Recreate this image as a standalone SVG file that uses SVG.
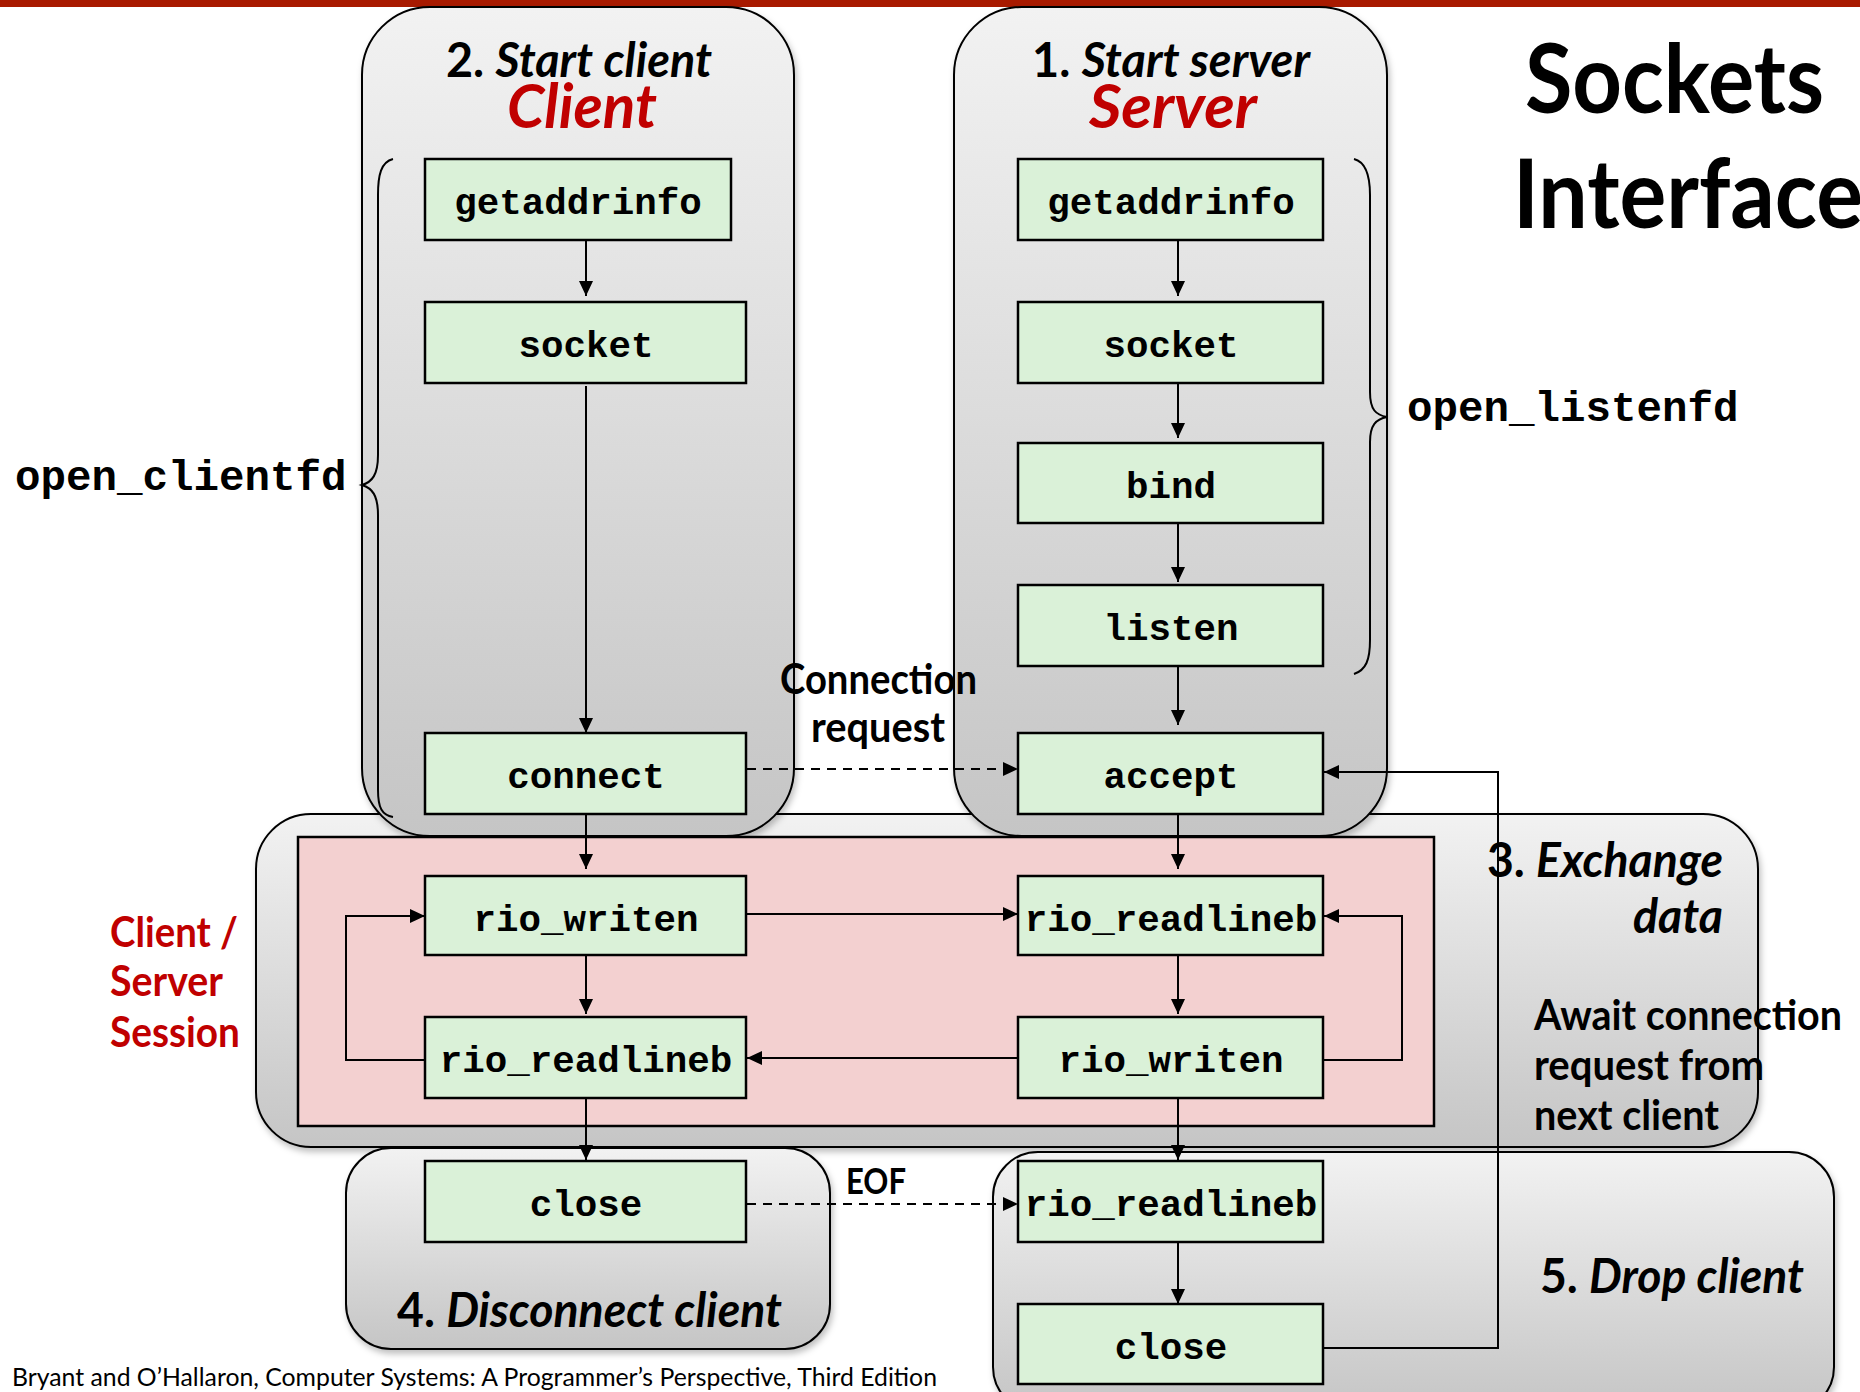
<svg xmlns="http://www.w3.org/2000/svg" width="1860" height="1392" viewBox="0 0 1860 1392">
<defs>
<linearGradient id="gray" x1="0" y1="0" x2="0" y2="1">
<stop offset="0" stop-color="#F2F2F2"/>
<stop offset="1" stop-color="#C5C5C5"/>
</linearGradient>
<filter id="shadow" x="-5%" y="-5%" width="110%" height="110%">
<feDropShadow dx="2" dy="4" stdDeviation="3" flood-color="#000" flood-opacity="0.25"/>
</filter>
<marker id="arr" markerUnits="userSpaceOnUse" markerWidth="16" markerHeight="14" refX="15" refY="7" orient="auto">
<path d="M0,0 L15,7 L0,14 Z" fill="#000"/>
</marker>
</defs>
<style>
.panel{fill:url(#gray);stroke:#000;stroke-width:2;filter:url(#shadow)}
.node rect{fill:#DAF1D8;stroke:#000;stroke-width:2.5}
.node text{font-family:"Liberation Mono","Courier New",monospace;font-weight:bold;font-size:37.5px;text-anchor:middle;fill:#000}
.code{font-family:"Liberation Mono","Courier New",monospace;font-weight:bold;font-size:42.5px;fill:#000}
.lbl{font-family:Lato,"Open Sans","Liberation Sans",sans-serif;font-weight:bold;fill:#000}
.red{fill:#C00000}
.it{font-style:italic}
.ln{fill:none;stroke:#000;stroke-width:2}
.dash{stroke-dasharray:9,7}
.brace{fill:none;stroke:#000;stroke-width:2}
</style>
<rect x="0" y="0" width="1860" height="7" fill="#A81A00"/>

<g id="session-panel">
<rect class="panel" x="256" y="814" width="1502" height="333" rx="55" ry="55"/>
</g>
<g id="disconnect-panel">
<rect class="panel" x="346" y="1148" width="484" height="201" rx="45" ry="45"/>
<text class="lbl" x="397" y="1327" font-size="48" textLength="385" lengthAdjust="spacingAndGlyphs">4. <tspan class="it">Disconnect client</tspan></text>
</g>
<g id="drop-panel">
<rect class="panel" x="993" y="1152" width="841" height="260" rx="45" ry="45"/>
<text class="lbl" x="1540" y="1293" font-size="48" textLength="264" lengthAdjust="spacingAndGlyphs">5. <tspan class="it">Drop client</tspan></text>
</g>
<g id="client-panel">
<rect class="panel" x="362" y="7" width="432" height="829" rx="68" ry="68"/>
<text class="lbl" x="579" y="77" font-size="48" text-anchor="middle" textLength="266" lengthAdjust="spacingAndGlyphs">2. <tspan class="it">Start client</tspan></text>
<text class="lbl red it" x="582" y="128" font-size="62" text-anchor="middle" textLength="150" lengthAdjust="spacingAndGlyphs">Client</text>
</g>
<g id="server-panel">
<rect class="panel" x="954" y="7" width="433" height="829" rx="68" ry="68"/>
<text class="lbl" x="1171" y="77" font-size="48" text-anchor="middle" textLength="278" lengthAdjust="spacingAndGlyphs">1. <tspan class="it">Start server</tspan></text>
<text class="lbl red it" x="1173" y="128" font-size="62" text-anchor="middle" textLength="168" lengthAdjust="spacingAndGlyphs">Server</text>
</g>
<g id="session-area">
<rect x="298" y="837" width="1136" height="289" fill="#F3D0D0" stroke="#000" stroke-width="2.5"/>
</g>

<g id="braces">
<path class="brace" d="M393,159 C381,162 378,175 378,195 V455 C378,475 372,482 362,485 C372,488 378,495 378,515 V790 C378,808 382,815 393,817"/>
<path class="brace" d="M1354,159 C1366,162 1370,175 1370,195 V392 C1370,410 1376,415 1387,417 C1376,419 1370,425 1370,442 V640 C1370,660 1366,670 1354,674"/>
</g>

<g id="connectors">
<path class="ln" d="M586,240 V296" marker-end="url(#arr)"/>
<path class="ln" d="M586,386 V733" marker-end="url(#arr)"/>
<path class="ln" d="M586,814 V869" marker-end="url(#arr)"/>
<path class="ln" d="M586,955 V1014" marker-end="url(#arr)"/>
<path class="ln" d="M586,1098 V1160" marker-end="url(#arr)"/>
<path class="ln" d="M1178,240 V296" marker-end="url(#arr)"/>
<path class="ln" d="M1178,383 V438" marker-end="url(#arr)"/>
<path class="ln" d="M1178,523 V582" marker-end="url(#arr)"/>
<path class="ln" d="M1178,666 V725" marker-end="url(#arr)"/>
<path class="ln" d="M1178,814 V869" marker-end="url(#arr)"/>
<path class="ln" d="M1178,955 V1014" marker-end="url(#arr)"/>
<path class="ln" d="M1178,1098 V1160" marker-end="url(#arr)"/>
<path class="ln" d="M1178,1242 V1304" marker-end="url(#arr)"/>
<path class="ln dash" d="M747,769 H1018" marker-end="url(#arr)"/>
<path class="ln" d="M747,914 H1018" marker-end="url(#arr)"/>
<path class="ln" d="M1018,1058 H747" marker-end="url(#arr)"/>
<path class="ln" d="M425,1060 H346 V916 H425" marker-end="url(#arr)"/>
<path class="ln" d="M1323,1060 H1402 V916 H1324" marker-end="url(#arr)"/>
<path class="ln" d="M1323,1348 H1498 V772 H1324" marker-end="url(#arr)"/>
<path class="ln dash" d="M747,1204 H1018" marker-end="url(#arr)"/>
</g>

<g id="c-getaddrinfo" class="node"><rect x="425" y="159" width="306" height="81"/><text x="578" y="214">getaddrinfo</text></g>
<g id="c-socket" class="node"><rect x="425" y="302" width="321" height="81"/><text x="586" y="357">socket</text></g>
<g id="c-connect" class="node"><rect x="425" y="733" width="321" height="81"/><text x="586" y="788">connect</text></g>
<g id="c-rio-writen" class="node"><rect x="425" y="876" width="321" height="79"/><text x="586" y="931">rio_writen</text></g>
<g id="c-rio-readlineb" class="node"><rect x="425" y="1017" width="321" height="81"/><text x="586" y="1072">rio_readlineb</text></g>
<g id="c-close" class="node"><rect x="425" y="1161" width="321" height="81"/><text x="586" y="1216">close</text></g>

<g id="s-getaddrinfo" class="node"><rect x="1018" y="159" width="305" height="81"/><text x="1171" y="214">getaddrinfo</text></g>
<g id="s-socket" class="node"><rect x="1018" y="302" width="305" height="81"/><text x="1171" y="357">socket</text></g>
<g id="s-bind" class="node"><rect x="1018" y="443" width="305" height="80"/><text x="1171" y="498">bind</text></g>
<g id="s-listen" class="node"><rect x="1018" y="585" width="305" height="81"/><text x="1171" y="640">listen</text></g>
<g id="s-accept" class="node"><rect x="1018" y="733" width="305" height="81"/><text x="1171" y="788">accept</text></g>
<g id="s-rio-readlineb" class="node"><rect x="1018" y="876" width="305" height="79"/><text x="1171" y="931">rio_readlineb</text></g>
<g id="s-rio-writen" class="node"><rect x="1018" y="1017" width="305" height="81"/><text x="1171" y="1072">rio_writen</text></g>
<g id="s-rio-readlineb-2" class="node"><rect x="1018" y="1161" width="305" height="81"/><text x="1171" y="1216">rio_readlineb</text></g>
<g id="s-close" class="node"><rect x="1018" y="1304" width="305" height="80"/><text x="1171" y="1359">close</text></g>

<g id="labels">
<text class="lbl" x="1525" y="113" font-size="95" textLength="299" lengthAdjust="spacingAndGlyphs">Sockets</text>
<text class="lbl" x="1513" y="228" font-size="95" textLength="350" lengthAdjust="spacingAndGlyphs">Interface</text>
<text class="code" x="15" y="490">open_clientfd</text>
<text class="code" x="1407" y="421">open_listenfd</text>
<text class="lbl" x="780" y="694" font-size="42" textLength="197" lengthAdjust="spacingAndGlyphs">Connection</text>
<text class="lbl" x="811" y="742" font-size="42" textLength="134" lengthAdjust="spacingAndGlyphs">request</text>
<text class="lbl red" x="110" y="947" font-size="42" textLength="128" lengthAdjust="spacingAndGlyphs">Client /</text>
<text class="lbl red" x="110" y="996" font-size="42" textLength="113" lengthAdjust="spacingAndGlyphs">Server</text>
<text class="lbl red" x="110" y="1047" font-size="42" textLength="130" lengthAdjust="spacingAndGlyphs">Session</text>
<text class="lbl" x="1487" y="877" font-size="48" textLength="236" lengthAdjust="spacingAndGlyphs">3. <tspan class="it">Exchange</tspan></text>
<text class="lbl it" x="1723" y="933" font-size="48" text-anchor="end" textLength="90" lengthAdjust="spacingAndGlyphs">data</text>
<text class="lbl" x="1534" y="1030" font-size="42" textLength="308" lengthAdjust="spacingAndGlyphs">Await connection</text>
<text class="lbl" x="1534" y="1080" font-size="42" textLength="230" lengthAdjust="spacingAndGlyphs">request from</text>
<text class="lbl" x="1534" y="1130" font-size="42" textLength="185" lengthAdjust="spacingAndGlyphs">next client</text>
<text class="lbl" x="846" y="1194" font-size="36" textLength="60" lengthAdjust="spacingAndGlyphs">EOF</text>
<text x="12" y="1386" font-family="Lato,'Open Sans','Liberation Sans',sans-serif" font-size="25" fill="#000" textLength="925" lengthAdjust="spacingAndGlyphs">Bryant and O’Hallaron, Computer Systems: A Programmer’s Perspective, Third Edition</text>
</g>
</svg>
